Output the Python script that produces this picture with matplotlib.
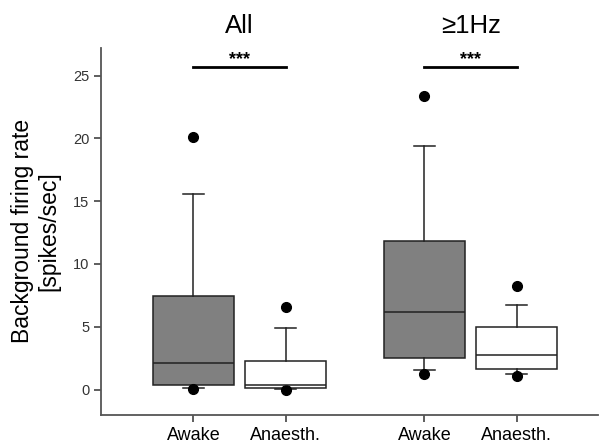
import matplotlib
matplotlib.use("Agg")
import matplotlib.pyplot as plt

plt.rcParams['font.family'] = ['Liberation Sans', 'DejaVu Sans']

# box statistics
labels = ['Awake', 'Anaesth.', 'Awake', 'Anaesth.']
positions = [1, 2, 3.5, 4.5]
whislo = [0.13, 0.07, 1.54, 1.27]
q1 = [0.40, 0.10, 2.52, 1.67]
med = [2.10, 0.40, 6.20, 2.73]
q3 = [7.43, 2.25, 11.86, 4.96]
whishi = [15.6, 4.9, 19.4, 6.71]
fliers = [[0.02, 20.15], [-0.05, 6.58], [1.22, 23.38], [1.08, 8.28]]
colors = ['#808080', 'white', '#808080', 'white']
group_titles = ['All', '\u22651Hz']
sig_y = 25.7

stats = []
for i in range(4):
    stats.append({'whislo': whislo[i], 'q1': q1[i], 'med': med[i], 'q3': q3[i],
                  'whishi': whishi[i], 'fliers': fliers[i]})

fig = plt.figure(figsize=(6.06, 4.43), dpi=100)
ax = fig.add_axes([0.1667, 0.064, 0.8203, 0.8276])

bp = ax.bxp(stats, positions=positions, widths=0.875, patch_artist=True,
            showfliers=True,
            boxprops=dict(edgecolor='#222222', linewidth=1.1),
            medianprops=dict(color='#222222', linewidth=1.1),
            whiskerprops=dict(color='#222222', linewidth=1.1),
            capprops=dict(color='#222222', linewidth=1.1),
            capwidths=0.23,
            flierprops=dict(marker='o', markerfacecolor='black', markeredgecolor='black', markersize=7))
for patch, c in zip(bp['boxes'], colors):
    patch.set_facecolor(c)

ax.set_xlim(0, 5.38)
ax.set_ylim(-2, 27.2)
ax.set_yticks([0, 5, 10, 15, 20, 25])
ax.set_xticks(positions)
ax.set_xticklabels(labels, fontsize=13)
ax.tick_params(axis='y', labelsize=10.5, colors='#333333', length=5, width=1.1)
ax.tick_params(axis='x', colors='#333333', length=5, width=1.1, labelcolor='black', pad=4)
for s in ['top', 'right']:
    ax.spines[s].set_visible(False)
for s in ['left', 'bottom']:
    ax.spines[s].set_color('#555555')
    ax.spines[s].set_linewidth(1.3)

ax.set_ylabel('Background firing rate\n[spikes/sec]', fontsize=16.5, labelpad=9)

# significance bars
for a, b in [(0, 1), (2, 3)]:
    ax.plot([positions[a], positions[b]], [sig_y, sig_y], color='black', lw=2, clip_on=False)
    ax.text((positions[a] + positions[b]) / 2, sig_y - 0.1, '***', ha='center', va='bottom',
            fontsize=13, fontweight='bold')

# group titles
for k, t in enumerate(group_titles):
    xc = (positions[2 * k] + positions[2 * k + 1]) / 2
    ax.text(xc, 1.06, t, transform=ax.get_xaxis_transform(), ha='center', va='center', fontsize=18.5)

fig.savefig('out.png', dpi=100)
